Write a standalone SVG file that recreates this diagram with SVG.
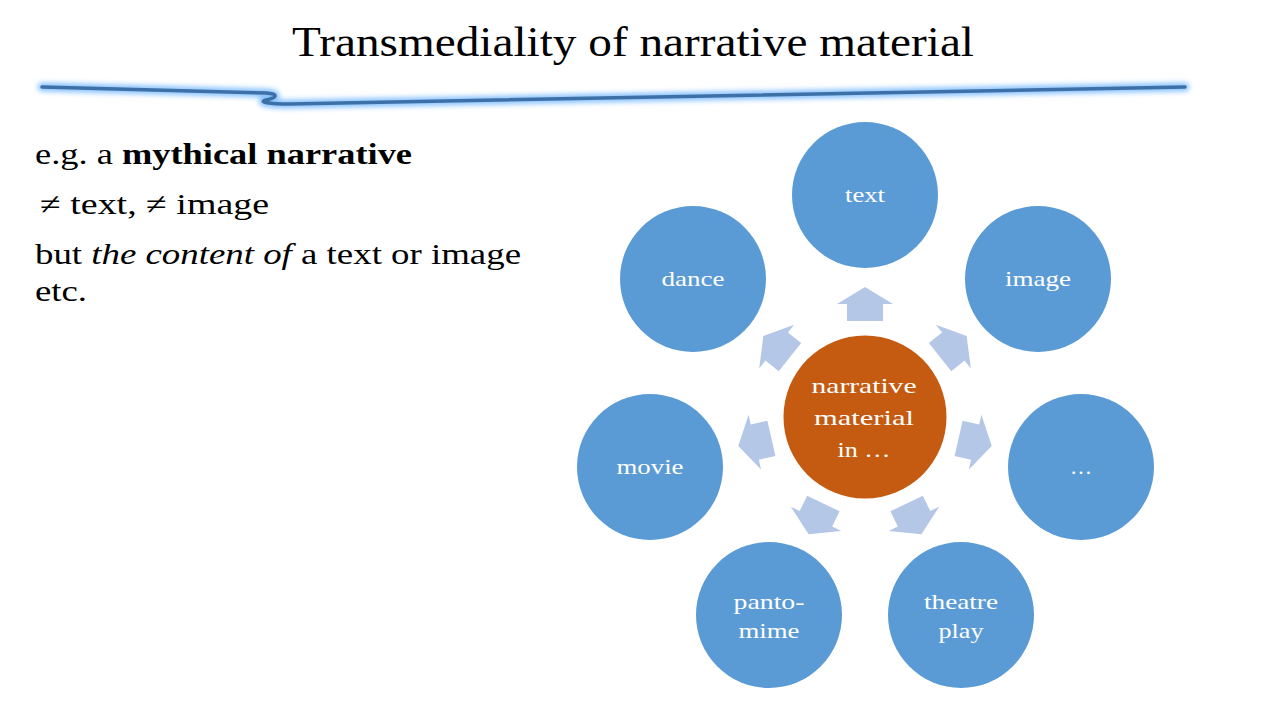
<svg xmlns="http://www.w3.org/2000/svg" width="1280" height="720" viewBox="0 0 1280 720">
<defs>
<filter id="glow" x="-5%" y="-100%" width="110%" height="300%"><feGaussianBlur stdDeviation="2.5"/></filter>
<path id="arr" d="M0,-130 L28,-113 L18,-113 L18,-96 L-18,-96 L-18,-113 L-28,-113 Z"/>
</defs>
<style>
.t{font-family:"Liberation Serif","DejaVu Serif",serif;fill:#000}
.c{fill:#5b9bd5}
.lbl{font-family:"Liberation Serif","DejaVu Serif",serif;fill:#fff;font-size:22px;text-anchor:middle}
.a{fill:#b4c7e7}
.ln{fill:none;stroke-linecap:round;stroke-linejoin:round}
</style>
<rect width="1280" height="720" fill="#fff"/>
<text class="t" x="633" y="56" font-size="43" text-anchor="middle" textLength="682" lengthAdjust="spacingAndGlyphs">Transmediality of narrative material</text>
<g id="underline">
<path class="ln" d="M42,87 L266,93 C280,94 276,98 266,100 C258,102 268,104 290,104 L1185,87" stroke="#8cc4ff" stroke-width="9" filter="url(#glow)"/>
<path class="ln" d="M42,87 L266,93 C280,94 276,98 266,100 C258,102 268,104 290,104 L1185,87" stroke="#3e70a8" stroke-width="3.5"/>
</g>
<g id="bodytext" font-size="30">
<text class="t" x="35" y="164" textLength="377" lengthAdjust="spacingAndGlyphs">e.g. a <tspan font-weight="bold">mythical narrative</tspan></text>
<text class="t" x="40" y="214" textLength="229" lengthAdjust="spacingAndGlyphs">≠ text, ≠ image</text>
<text class="t" x="35" y="264" textLength="486" lengthAdjust="spacingAndGlyphs">but <tspan font-style="italic">the content of</tspan> a text or image</text>
<text class="t" x="35" y="301" textLength="52" lengthAdjust="spacingAndGlyphs">etc.</text>
</g>
<g id="connectors" class="a">
<use href="#arr" transform="translate(865,417) rotate(0)"/>
<use href="#arr" transform="translate(865,417) rotate(51.43)"/>
<use href="#arr" transform="translate(865,417) rotate(102.86)"/>
<use href="#arr" transform="translate(865,417) rotate(154.29)"/>
<use href="#arr" transform="translate(865,417) rotate(205.71)"/>
<use href="#arr" transform="translate(865,417) rotate(257.14)"/>
<use href="#arr" transform="translate(865,417) rotate(308.57)"/>
</g>
<g id="center"><circle cx="865" cy="417" r="81.5" fill="#c55a11"/>
<text class="lbl" font-size="26" x="864" y="393" textLength="105" lengthAdjust="spacingAndGlyphs">narrative</text>
<text class="lbl" font-size="26" x="864" y="425" textLength="100" lengthAdjust="spacingAndGlyphs">material</text>
<text class="lbl" font-size="26" x="864" y="457" textLength="53" lengthAdjust="spacingAndGlyphs">in …</text></g>
<g id="n-text"><circle class="c" cx="865" cy="195" r="73"/><text class="lbl" x="865" y="202" textLength="40" lengthAdjust="spacingAndGlyphs">text</text></g>
<g id="n-image"><circle class="c" cx="1038" cy="279" r="73"/><text class="lbl" x="1038" y="286" textLength="66" lengthAdjust="spacingAndGlyphs">image</text></g>
<g id="n-etc"><circle class="c" cx="1081" cy="467" r="73"/><text class="lbl" x="1081" y="474">…</text></g>
<g id="n-theatre"><circle class="c" cx="961" cy="615" r="73"/><text class="lbl" x="961" y="609" textLength="74" lengthAdjust="spacingAndGlyphs">theatre</text><text class="lbl" x="961" y="638" textLength="45" lengthAdjust="spacingAndGlyphs">play</text></g>
<g id="n-panto"><circle class="c" cx="769" cy="615" r="73"/><text class="lbl" x="769" y="609" textLength="71" lengthAdjust="spacingAndGlyphs">panto-</text><text class="lbl" x="769" y="638" textLength="61" lengthAdjust="spacingAndGlyphs">mime</text></g>
<g id="n-movie"><circle class="c" cx="650" cy="467" r="73"/><text class="lbl" x="650" y="474" textLength="67" lengthAdjust="spacingAndGlyphs">movie</text></g>
<g id="n-dance"><circle class="c" cx="693" cy="279" r="73"/><text class="lbl" x="693" y="286" textLength="63" lengthAdjust="spacingAndGlyphs">dance</text></g>
</svg>
